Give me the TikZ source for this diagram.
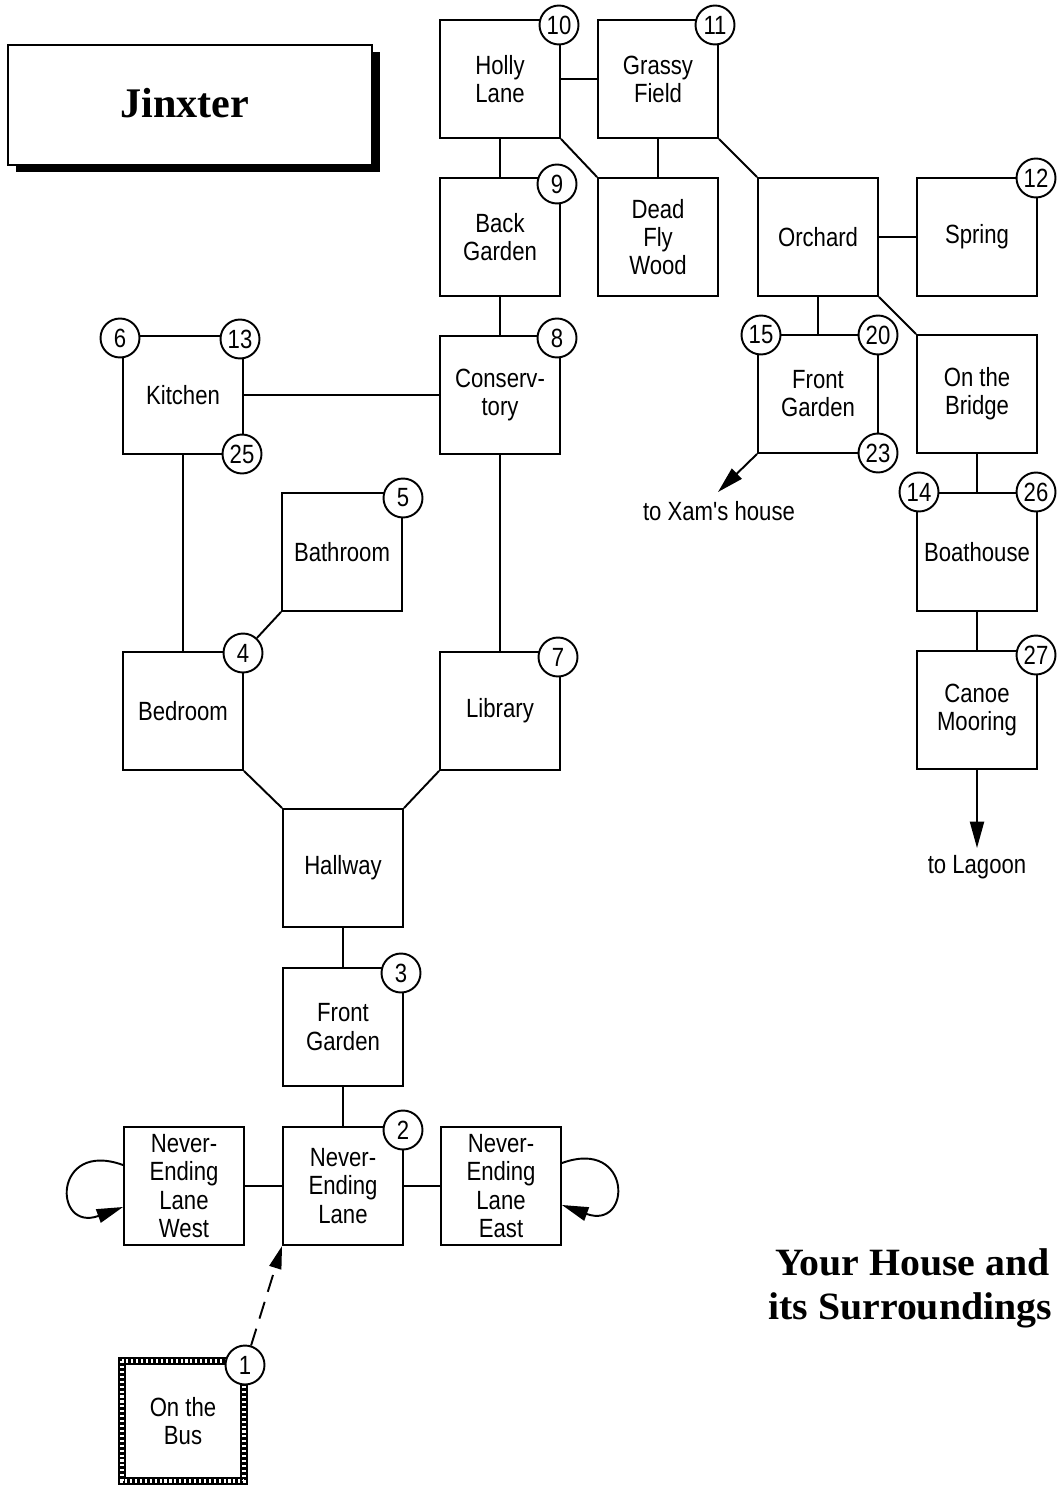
\documentclass[tikz,border=0pt]{standalone}
\usepackage{fontspec}
\setmainfont{Liberation Serif}
\newfontfamily\roomfont[FakeStretch=0.84]{Liberation Sans}
\newfontfamily\wideserif[FakeStretch=1.03]{Liberation Serif}
\usetikzlibrary{arrows.meta,shadows}
\begin{document}
\begin{tikzpicture}[x=0.02cm,y=-0.02cm,
  room/.style={draw, line width=1.1pt, minimum width=2.4cm, minimum height=2.36cm, inner sep=0pt, align=center, font=\roomfont\fontsize{15pt}{16pt}\selectfont},
  num/.style={circle, draw, line width=1.1pt, fill=white, minimum size=0.78cm, inner sep=0pt, font=\roomfont\fontsize{15pt}{16pt}\selectfont},
  link/.style={line width=1.1pt},
  exitarrow/.style={line width=1.1pt, -{Triangle[length=15pt,width=8pt]}},
  lbl/.style={font=\roomfont\fontsize{15pt}{16pt}\selectfont, inner sep=0pt}
]
\useasboundingbox (0,0) rectangle (1061,1486);
\fill[white] (0,0) rectangle (1061,1486);

% title
\node[draw, line width=1.1pt, fill=white, minimum width=7.28cm, minimum height=2.4cm,
      drop shadow={shadow xshift=0.16cm, shadow yshift=-0.14cm, fill=black, opacity=1},
      font=\bfseries\fontsize{24pt}{26pt}\selectfont] (title) at (190,105) {\raisebox{2pt}{Jinxter}\hspace*{6pt}};

% rooms
\node[room] (holly)   at (500,79)  {Holly\\Lane};
\node[room] (grassy)  at (658,79)  {Grassy\\Field};
\node[room] (back)    at (500,237) {Back\\Garden};
\node[room] (dead)    at (658,237) {Dead\\Fly\\Wood};
\node[room] (orchard) at (818,237) {Orchard};
\node[room] (spring)  at (977,237) {Spring};
\node[room] (kitchen) at (183,395) {Kitchen};
\node[room] (conserv) at (500,395) {Conserv-\\tory};
\node[room] (frontR)  at (818,394) {Front\\Garden};
\node[room] (bridge)  at (977,394) {On the\\Bridge};
\node[room] (boat)    at (977,552) {Boathouse};
\node[room] (bath)    at (342,552) {Bathroom};
\node[room] (bed)     at (183,711) {Bedroom};
\node[room] (lib)     at (500,711) {Library};
\node[room] (canoe)   at (977,710) {Canoe\\Mooring};
\node[room] (hall)    at (343,868) {Hallway};
\node[room] (frontL)  at (343,1027) {Front\\Garden};
\node[room] (nel)     at (343,1186) {Never-\\Ending\\Lane};
\node[room] (nelw)    at (184,1186) {Never-\\Ending\\Lane\\West};
\node[room] (nele)    at (501,1186) {Never-\\Ending\\Lane\\East};
\node[room, draw=none] (bus) at (183,1421) {On the\\Bus};
\draw[line width=4.5pt] (bus.north west) rectangle (bus.south east);
\draw[white, line width=2.2pt, dash pattern=on 1.2pt off 1.6pt] (bus.north west) rectangle (bus.south east);

% exits
\coordinate (xam) at (718,492);
\coordinate (lag) at (977,848);
\node[lbl] (xamlbl) at (719,511) {to Xam's house};
\node[lbl] (laglbl) at (977,867) {to Lagoon};

% connectors
\draw[link] (holly.east) -- (grassy.west);
\draw[link] (holly.south) -- (back.north);
\draw[link] (holly.south east) -- (dead.north west);
\draw[link] (grassy.south) -- (dead.north);
\draw[link] (grassy.south east) -- (orchard.north west);
\draw[link] (back.south) -- (conserv.north);
\draw[link] (orchard.east) -- (spring.west);
\draw[link] (orchard.south) -- (frontR.north);
\draw[link] (orchard.south east) -- (bridge.north west);
\draw[link] (kitchen.east) -- (conserv.west);
\draw[link] (kitchen.south) -- (bed.north);
\draw[link] (conserv.south) -- (lib.north);
\draw[link] (bed.south east) -- (hall.north west);
\draw[link] (lib.south west) -- (hall.north east);
\draw[link] (hall.south) -- (frontL.north);
\draw[link] (frontL.south) -- (nel.north);
\draw[link] (nelw.east) -- (nel.west);
\draw[link] (nel.east) -- (nele.west);
\draw[link] (bridge.south) -- (boat.north);
\draw[link] (boat.south) -- (canoe.north);
\draw[exitarrow] (canoe.south) -- (lag);
\draw[exitarrow] (frontR.south west) -- (xam);
\draw[exitarrow] ([yshift=0.42cm]nelw.west) to[out=160, in=200, distance=1.5cm] ([yshift=-0.42cm]nelw.west);
\draw[exitarrow] ([yshift=0.46cm]nele.east) to[out=20, in=-20, distance=1.5cm] ([yshift=-0.38cm]nele.east);

% number circles
\node[num] (c10) at (559,25)  {10};
\node[num] (c11) at (715,25)  {11};
\node[num] (c9)  at (557,184) {9};
\node[num] (c12) at (1036,178) {12};
\node[num] (c8)  at (557,338) {8};
\node[num] (c6)  at (120,338) {6};
\node[num] (c13) at (240,339) {13};
\node[num] (c25) at (242,454) {25};
\node[num] (c15) at (761,335) {15};
\node[num] (c20) at (878,335) {20};
\node[num] (c23) at (878,453) {23};
\node[num] (c14) at (919,492) {14};
\node[num] (c26) at (1036,492) {26};
\node[num] (c5)  at (403,498) {5};
\node[num] (c4)  at (243,653) {4};
\node[num] (c7)  at (558,657) {7};
\node[num] (c27) at (1036,655) {27};
\node[num] (c3)  at (401,973) {3};
\node[num] (c2)  at (403,1130) {2};
\node[num] (c1)  at (245,1365) {1};

\draw[link] (c4) -- (bath.south west);
\draw[link, dash pattern=on 10pt off 6pt, -{Triangle[length=13pt,width=7pt]}] (c1) -- (nel.south west);

% subtitle
\node[anchor=north west, inner sep=0pt, align=left,
      font=\wideserif\bfseries\fontsize{22pt}{25pt}\selectfont] (sub) at (768,1248)
      {\hspace*{4pt}Your House and\\its Surroundings};
\end{tikzpicture}
\end{document}
